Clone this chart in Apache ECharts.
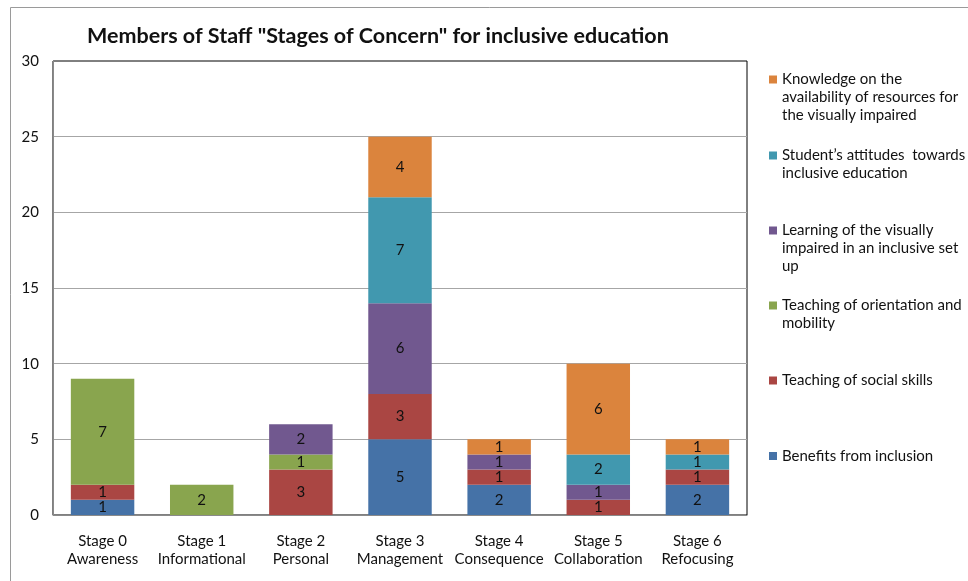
<!DOCTYPE html>
<html>
<head>
<meta charset="utf-8">
<script src="https://cdn.jsdelivr.net/npm/echarts@6/dist/echarts.min.js"></script>
<style>
html,body{margin:0;padding:0;background:#fff;}
#chart{width:968px;height:581px;}
</style>
</head>
<body>
<div id="chart"></div>
<script>
const titleText = 'Members of Staff "Stages of Concern" for inclusive education';
const categories = ['Stage 0\nAwareness', 'Stage 1\nInformational', 'Stage 2\nPersonal', 'Stage 3\nManagement', 'Stage 4\nConsequence', 'Stage 5\nCollaboration', 'Stage 6\nRefocusing'];
const yTicks = { min: 0, max: 30, interval: 5 };

const seriesNames = [
  'Benefits from inclusion',
  'Teaching of social skills',
  'Teaching of orientation and mobility',
  'Learning of the visually impaired in an inclusive set up',
  'Student’s attitudes  towards inclusive education',
  'Knowledge on the availability of resources for the visually impaired'
];
const legendLabels = [
  'Benefits from inclusion',
  'Teaching of social skills',
  'Teaching of orientation and\nmobility',
  'Learning of the visually\nimpaired in an inclusive set\nup',
  'Student’s attitudes  towards\ninclusive education',
  'Knowledge on the\navailability of resources for\nthe visually impaired'
];
const seriesColors = ['#4572A7', '#AA4643', '#89A54E', '#71588F', '#4198AF', '#DB843D'];

const benefits    = [1, null, null, 5, 2, null, 2];
const socialSkills = [1, null, 3, 3, 1, 1, 1];
const orientation = [7, 2, 1, null, null, null, null];
const learning    = [null, null, 2, 6, 1, 1, null];
const attitudes   = [null, null, null, 7, null, 2, 1];
const knowledge   = [null, null, null, 4, 1, 6, 1];
const seriesValues = [benefits, socialSkills, orientation, learning, attitudes, knowledge];

// legend layout (icon centre y for each series, bottom series last)
const legendIconCenters = [456, 380.5, 305.5, 230.5, 155.5, 79.5];
const LH = 18;
const FS = 15;

const FONT = 'Lato';
const chart = echarts.init(document.getElementById('chart'));

const legends = seriesNames.map((name, i) => {
  const label = legendLabels[i];
  const n = label.split('\n').length;
  return {
    data: [name],
    orient: 'vertical',
    left: 769,
    top: legendIconCenters[i] - (2 * n - 1) * LH / 2,
    padding: 0,
    icon: 'rect',
    itemWidth: 8,
    itemHeight: 8,
    selectedMode: false,
    formatter: () => '\n'.repeat(n - 1) + label,
    textStyle: { fontFamily: FONT, fontSize: FS, color: '#111', lineHeight: LH }
  };
});

const option = {
  animation: false,
  backgroundColor: '#fff',
  textStyle: { fontFamily: FONT },
  title: {
    text: titleText,
    left: 87,
    top: 25,
    padding: 0,
    textStyle: { fontFamily: FONT, fontWeight: 'bold', fontSize: 21.5, color: '#111' }
  },
  legend: legends,
  graphic: [{
    type: 'rect',
    shape: { x: 10.5, y: 7.5, width: 1000, height: 700 },
    style: { fill: 'none', stroke: '#9a9a9a', lineWidth: 1 },
    silent: true, z: -10
  }],
  grid: {
    left: 53, top: 61, width: 694, height: 454,
    show: true, borderColor: '#000', borderWidth: 1, backgroundColor: 'transparent'
  },
  xAxis: {
    type: 'category',
    data: categories,
    axisLine: { show: true, lineStyle: { color: '#8a8a8a', width: 1 } },
    axisTick: { show: false },
    axisLabel: { fontFamily: FONT, fontSize: FS, color: '#111', lineHeight: LH, margin: 17, interval: 0 }
  },
  yAxis: {
    type: 'value',
    min: yTicks.min, max: yTicks.max, interval: yTicks.interval,
    axisLine: { show: true, lineStyle: { color: '#8a8a8a', width: 1 } },
    axisTick: { show: false },
    axisLabel: { fontFamily: FONT, fontSize: FS, color: '#111', margin: 14 },
    splitLine: { show: true, showMaxLine: false, lineStyle: { color: '#a6a6a6', width: 1 } }
  },
  series: seriesNames.map((name, i) => ({
    name: name,
    type: 'bar',
    stack: 'total',
    barWidth: '64%',
    data: seriesValues[i],
    itemStyle: { color: seriesColors[i] },
    label: {
      show: true, position: 'inside', color: '#111',
      fontFamily: FONT, fontSize: FS,
      formatter: p => (p.value == null ? '' : String(p.value))
    }
  }))
};
chart.setOption(option);
</script>
</body>
</html>
